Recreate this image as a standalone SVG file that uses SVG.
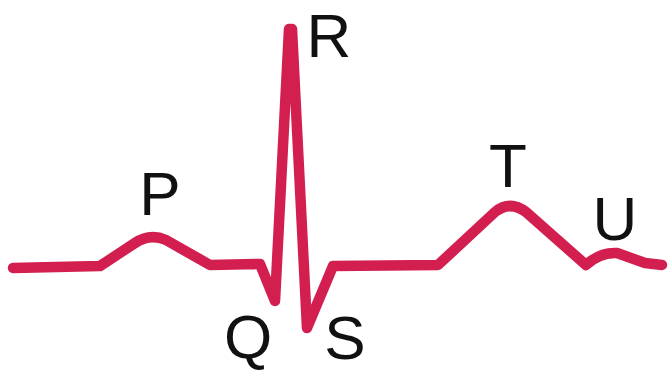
<svg xmlns="http://www.w3.org/2000/svg" width="672" height="372" viewBox="0 0 672 372">
  <style>
    .wave { fill: none; stroke: #d21f4f; stroke-width: 10.5; stroke-linejoin: round; stroke-linecap: round; }
    .lbl { font-family: "Liberation Sans", Arial, sans-serif; font-size: 62px; fill: #111; text-anchor: middle; }
  </style>
  <rect width="672" height="372" fill="#ffffff"/>
  <g id="connectors">
    <path class="wave" d="M13,268 L100,266 L135,243 Q150,233 166,240 L210,265 L260,264 L275,301 L289,29 L292,29 L307,328 L333,266 L438,265 L495,212 Q510,200 526,212 L586,265 Q600,252 617,253 L645,263 L662,265"/>
  </g>
  <g id="P"><text class="lbl" x="160" y="215">P</text></g>
  <g id="R"><text class="lbl" x="329" y="57">R</text></g>
  <g id="Q"><text class="lbl" x="248" y="358">Q</text></g>
  <g id="S"><text class="lbl" x="345" y="359">S</text></g>
  <g id="T"><text class="lbl" x="508" y="187">T</text></g>
  <g id="U"><text class="lbl" x="615" y="240">U</text></g>
</svg>
